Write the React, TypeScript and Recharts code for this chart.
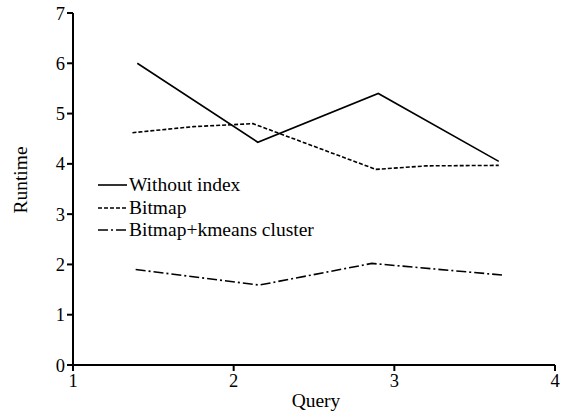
import React from "react";
import { LineChart, Line, XAxis, YAxis } from "recharts";

const withoutIndex = [
  { q: 1.4, v: 6.0 },
  { q: 2.15, v: 4.43 },
  { q: 2.9, v: 5.4 },
  { q: 3.65, v: 4.05 },
];
const bitmap = [
  { q: 1.37, v: 4.62 },
  { q: 1.75, v: 4.74 },
  { q: 2.12, v: 4.8 },
  { q: 2.885, v: 3.89 },
  { q: 3.2, v: 3.96 },
  { q: 3.65, v: 3.97 },
];
const kmeans = [
  { q: 1.39, v: 1.9 },
  { q: 2.16, v: 1.59 },
  { q: 2.86, v: 2.02 },
  { q: 3.67, v: 1.79 },
];
const xTicks = [1, 2, 3, 4];
const yTicks = [0, 1, 2, 3, 4, 5, 6, 7];

const FONT = "'Liberation Serif', 'Times New Roman', serif";

const series = [
  { name: "Without index", data: withoutIndex, dash: undefined as string | undefined },
  { name: "Bitmap", data: bitmap, dash: "4 2" },
  { name: "Bitmap+kmeans cluster", data: kmeans, dash: "10 3 2 3" },
];

const LegendBox = () => (
  <div
    style={{
      position: "absolute",
      left: 98,
      top: 174,
      fontFamily: FONT,
      fontSize: 19.5,
      color: "#000",
      lineHeight: "22.5px",
    }}
  >
    {series.map((s) => (
      <div key={s.name} style={{ display: "flex", alignItems: "center", height: 22.5 }}>
        <svg width={31} height={10} style={{ marginRight: 0 }}>
          <line x1={0} y1={5} x2={29} y2={5} stroke="#000" strokeWidth={1.6} strokeDasharray={s.dash} />
        </svg>
        <span>{s.name}</span>
      </div>
    ))}
  </div>
);

const YLabel = (props: any) => {
  const vb = props.viewBox || {};
  const cy = vb.y + vb.height / 2 - 9;
  const cx = 20;
  return (
    <text
      x={cx}
      y={cy}
      transform={`rotate(-90, ${cx}, ${cy})`}
      textAnchor="middle"
      dominantBaseline="central"
      fill="#000"
      fontFamily={FONT}
      fontSize={19.5}
    >
      Runtime
    </text>
  );
};

const XLabel = (props: any) => {
  const vb = props.viewBox || {};
  const cx = vb.x + vb.width / 2 + 2;
  return (
    <text x={cx} y={407} textAnchor="middle" fill="#000" fontFamily={FONT} fontSize={19.5}>
      Query
    </text>
  );
};

export default function App() {
  return (
    <div style={{ position: "absolute", left: 0, top: 0, width: 562, height: 414, background: "#fff", fontFamily: FONT }}>
      <LineChart width={562} height={414} margin={{ top: 13, right: 7, bottom: 0, left: 0 }} style={{ fontFamily: FONT }}>
        <XAxis
          type="number"
          dataKey="q"
          domain={[1, 4]}
          ticks={xTicks}
          allowDuplicatedCategory={false}
          height={49}
          tickSize={6}
          tickMargin={3}
          axisLine={{ stroke: "#000", strokeWidth: 2 }}
          tickLine={{ stroke: "#000", strokeWidth: 2 }}
          tick={{ fill: "#000", fontFamily: FONT, fontSize: 18.5 }}
          label={<XLabel />}
        />
        <YAxis
          type="number"
          domain={[0, 7]}
          ticks={yTicks}
          width={73}
          tickSize={6}
          tickMargin={2}
          axisLine={{ stroke: "#000", strokeWidth: 2 }}
          tickLine={{ stroke: "#000", strokeWidth: 2 }}
          tick={{ fill: "#000", fontFamily: FONT, fontSize: 18.5 }}
          label={<YLabel />}
        />
        {series.map((s) => (
          <Line
            key={s.name}
            name={s.name}
            data={s.data}
            dataKey="v"
            type="linear"
            stroke="#000"
            strokeWidth={1.6}
            strokeDasharray={s.dash}
            dot={false}
            activeDot={false}
            isAnimationActive={false}
          />
        ))}
      </LineChart>
      <LegendBox />
    </div>
  );
}
